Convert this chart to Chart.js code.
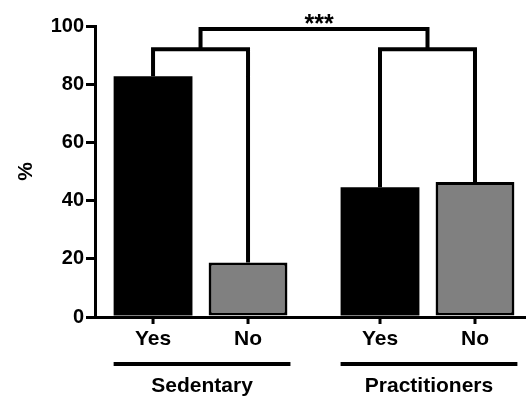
<!DOCTYPE html>
<html lang="en">
<head>
    <meta charset="UTF-8" />
    <title>Sedentary vs Practitioners</title>
    <script src="https://cdn.jsdelivr.net/npm/chart.js"></script>
    <style>
        body {
            margin: 0;
            background-color: #ffffff;
            overflow: hidden;
        }
    </style>
</head>
<body>

<canvas id="barChart" width="526" height="397"></canvas>

<script>
    const groups = ['Sedentary', 'Practitioners'];
    const answers = ['Yes', 'No'];
    const yesValues = [82.7, 44.6];
    const noValues = [18.7, 46.4];
    const yTicks = [0, 20, 40, 60, 80, 100];

    // significance brackets (in % units)
    const bracketLevels = [92, 92];
    const topBracketLevel = 99;
    const significance = '***';

    const FONT = 'Liberation Sans, Arial, sans-serif';

    const annotations = {
        id: 'annotations',
        afterDatasetsDraw(chart) {
            const { ctx, scales: { y } } = chart;
            const yesBars = chart.getDatasetMeta(0).data;
            const noBars = chart.getDatasetMeta(1).data;
            ctx.save();
            ctx.strokeStyle = '#000';
            ctx.fillStyle = '#000';
            ctx.lineCap = 'butt';
            ctx.lineJoin = 'miter';

            const mids = [];
            groups.forEach((g, i) => {
                const pair = [yesBars[i], noBars[i]];
                const vals = [yesValues[i], noValues[i]];

                // x ticks and Yes/No labels
                ctx.lineWidth = 3;
                ctx.font = 'bold 21px ' + FONT;
                ctx.textAlign = 'center';
                ctx.textBaseline = 'middle';
                pair.forEach((bar, j) => {
                    ctx.beginPath();
                    ctx.moveTo(bar.x, y.bottom);
                    ctx.lineTo(bar.x, y.bottom + 7);
                    ctx.stroke();
                    ctx.fillText(answers[j], bar.x, y.bottom + 22);
                });

                // group underline and name
                const left = pair[0].x - pair[0].width / 2;
                const right = pair[1].x + pair[1].width / 2 + 3;
                ctx.lineWidth = 4;
                ctx.beginPath();
                ctx.moveTo(left, 364);
                ctx.lineTo(right, 364);
                ctx.stroke();
                ctx.fillText(g, (left + right) / 2, 386);

                // bracket between Yes and No
                const lv = y.getPixelForValue(bracketLevels[i]);
                ctx.lineWidth = 4;
                ctx.beginPath();
                ctx.moveTo(pair[0].x, y.getPixelForValue(vals[0]));
                ctx.lineTo(pair[0].x, lv);
                ctx.lineTo(pair[1].x, lv);
                ctx.lineTo(pair[1].x, y.getPixelForValue(vals[1]));
                ctx.stroke();
                mids.push({ x: (pair[0].x + pair[1].x) / 2, y: lv });
            });

            // bracket between groups
            const tv = y.getPixelForValue(topBracketLevel);
            ctx.beginPath();
            ctx.moveTo(mids[0].x, mids[0].y);
            ctx.lineTo(mids[0].x, tv);
            ctx.lineTo(mids[1].x, tv);
            ctx.lineTo(mids[1].x, mids[1].y);
            ctx.stroke();
            ctx.font = 'bold 25px ' + FONT;
            ctx.textBaseline = 'alphabetic';
            ctx.fillText(significance, (mids[0].x + mids[1].x) / 2 + 5, tv + 3);

            ctx.restore();
        }
    };

    const chart = new Chart(document.getElementById('barChart'), {
        type: 'bar',
        data: {
            datasets: [
                {
                    label: answers[0],
                    data: yesValues.map((v, i) => ({ x: i, y: v })),
                    backgroundColor: '#000000',
                    borderWidth: 0
                },
                {
                    label: answers[1],
                    data: noValues.map((v, i) => ({ x: i, y: v })),
                    backgroundColor: '#808080',
                    borderColor: '#000000',
                    borderWidth: 3,
                    borderSkipped: false
                }
            ]
        },
        options: {
            responsive: false,
            animation: false,
            categoryPercentage: 0.837,
            barPercentage: 0.83,
            layout: { padding: { top: 26, left: 0, right: 0, bottom: 0 } },
            scales: {
                x: {
                    type: 'linear',
                    offset: false,
                    min: -0.465,
                    max: 1.434,
                    afterBuildTicks: (scale) => {
                        scale.ticks = groups.map((g, i) => ({ value: i }));
                    },
                    afterFit: (scale) => { scale.height = 80; },
                    grid: { display: false, offset: false },
                    border: { display: true, color: '#000', width: 3 },
                    ticks: { display: false }
                },
                y: {
                    min: 0,
                    max: 100,
                    afterBuildTicks: (scale) => {
                        scale.ticks = yTicks.map(v => ({ value: v }));
                    },
                    afterFit: (scale) => { scale.width = 95; },
                    grid: {
                        drawOnChartArea: false,
                        drawTicks: true,
                        tickLength: 9,
                        color: '#000',
                        lineWidth: 3
                    },
                    border: { display: true, color: '#000', width: 3 },
                    ticks: {
                        color: '#000',
                        padding: 2,
                        font: { family: FONT, size: 20, weight: 'bold' }
                    },
                    title: {
                        display: true,
                        text: '%',
                        color: '#000',
                        padding: { top: 14, bottom: 0 },
                        font: { family: FONT, size: 21, weight: 'bold' }
                    }
                }
            },
            plugins: {
                legend: { display: false },
                tooltip: { enabled: false }
            }
        },
        plugins: [annotations]
    });
</script>

</body>
</html>
